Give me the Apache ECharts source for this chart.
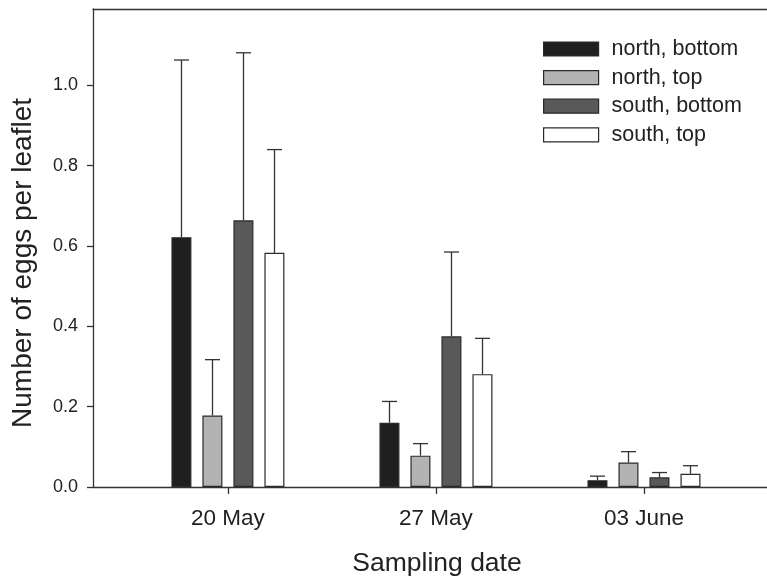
<!DOCTYPE html>
<html>
<head>
<meta charset="utf-8">
<script src="https://cdn.jsdelivr.net/npm/echarts@6/dist/echarts.min.js"></script>
<style>html,body{margin:0;padding:0;background:#fff;}#c{width:767px;height:578px;}</style>
</head>
<body>
<div id="c"></div>
<script>
// ---- data ----
const categories = ['20 May', '27 May', '03 June'];
const dayNumbers = [20, 27, 34]; // sampling day (days since 1 May)
const seriesNames = ['north, bottom', 'north, top', 'south, bottom', 'south, top'];
const northBottom = [0.622, 0.160, 0.017];
const northTop = [0.178, 0.078, 0.061];
const southBottom = [0.664, 0.375, 0.024];
const southTop = [0.583, 0.281, 0.033];
const northBottomErr = [0.441, 0.053, 0.010];
const northTopErr = [0.139, 0.030, 0.027];
const southBottomErr = [0.417, 0.210, 0.012];
const southTopErr = [0.257, 0.089, 0.020];
const yTicks = [0, 0.2, 0.4, 0.6, 0.8, 1.0];

// ---- style ----
const FONT = "'Liberation Sans', Arial, sans-serif";
const TEXT = '#222';
const LINE = '#333';
const colors = ['#1f1f1f', '#b3b3b3', '#595959', '#ffffff'];
const BAR_W = 20;
const BAR_GAP = 0.55;
const STEP = BAR_W * (1 + BAR_GAP);

const means = [northBottom, northTop, southBottom, southTop];
const errs = [northBottomErr, northTopErr, southBottomErr, southTopErr];

const series = [];
means.forEach((m, i) => {
  series.push({
    name: seriesNames[i],
    type: 'bar',
    barWidth: BAR_W,
    barGap: (BAR_GAP * 100) + '%',
    itemStyle: { color: colors[i], borderColor: '#2a2a2a', borderWidth: 1.2 },
    data: dayNumbers.map((d, k) => [d, m[k]]),
    z: 2
  });
});

const errData = [];
means.forEach((m, i) => {
  dayNumbers.forEach((d, k) => { errData.push([d, m[k], m[k] + errs[i][k], i]); });
});

series.push({
  type: 'custom',
  z: 3,
  silent: true,
  renderItem: function (params, api) {
    const idx = api.value(3);
    const off = (idx - (means.length - 1) / 2) * STEP;
    const p0 = api.coord([api.value(0), api.value(1)]);
    const p1 = api.coord([api.value(0), api.value(2)]);
    const x = Math.round(p0[0] + off) + 0.5;
    const cap = 7.5;
    const st = { stroke: LINE, lineWidth: 1.3, fill: null };
    return {
      type: 'group',
      children: [
        { type: 'line', shape: { x1: x, y1: p0[1], x2: x, y2: p1[1] }, style: st },
        { type: 'line', shape: { x1: x - cap, y1: p1[1], x2: x + cap, y2: p1[1] }, style: st }
      ]
    };
  },
  encode: { x: 0, y: [1, 2] },
  data: errData
});

const chart = echarts.init(document.getElementById('c'), null, { renderer: 'canvas' });
chart.setOption({
  animation: false,
  backgroundColor: '#fff',
  textStyle: { fontFamily: FONT },
  grid: { left: 93, right: 0, top: 9, bottom: 91, containLabel: false, outerBoundsMode: 'none' },
  legend: {
    orient: 'vertical',
    left: 543,
    top: 38,
    padding: 0,
    icon: 'rect',
    itemWidth: 55,
    itemHeight: 14,
    itemGap: 6.6,
    data: seriesNames,
    textStyle: { fontFamily: FONT, fontSize: 21.5, color: TEXT, padding: [0, 0, 0, 8] },
    itemStyle: { borderColor: '#2a2a2a', borderWidth: 1.2 }
  },
  xAxis: [{
    type: 'value',
    min: 15.46,
    max: 38.14,
    name: 'Sampling date',
    nameLocation: 'middle',
    nameGap: 63,
    nameTextStyle: { fontFamily: FONT, fontSize: 26.5, color: TEXT, padding: [0, 0, 0, 14] },
    axisLine: { show: true, lineStyle: { color: LINE, width: 1.3 } },
    axisTick: { show: true, customValues: dayNumbers, length: 7, lineStyle: { color: LINE, width: 1.3 } },
    axisLabel: {
      customValues: dayNumbers,
      formatter: function (v) { const i = dayNumbers.indexOf(v); return i >= 0 ? categories[i] : ''; },
      fontFamily: FONT, fontSize: 22.5, color: TEXT, margin: 20
    },
    splitLine: { show: false }
  }, {
    type: 'value',
    position: 'top',
    min: 15.46,
    max: 38.14,
    axisLine: { show: true, lineStyle: { color: LINE, width: 1.3 } },
    axisTick: { show: false },
    axisLabel: { show: false },
    splitLine: { show: false }
  }],
  yAxis: {
    type: 'value',
    min: 0,
    max: 1.19,
    name: 'Number of eggs per leaflet',
    nameLocation: 'middle',
    nameGap: 56,
    nameTextStyle: { fontFamily: FONT, fontSize: 28, color: TEXT, padding: [0, 30, 0, 0] },
    axisLine: { show: true, lineStyle: { color: LINE, width: 1.3 } },
    axisTick: { show: true, customValues: yTicks, length: 6, lineStyle: { color: LINE, width: 1.3 } },
    axisLabel: {
      customValues: yTicks,
      formatter: function (v) { return v.toFixed(1); },
      fontFamily: FONT, fontSize: 18, color: TEXT, margin: 15
    },
    splitLine: { show: false }
  },
  series: series
});
</script>
</body>
</html>
